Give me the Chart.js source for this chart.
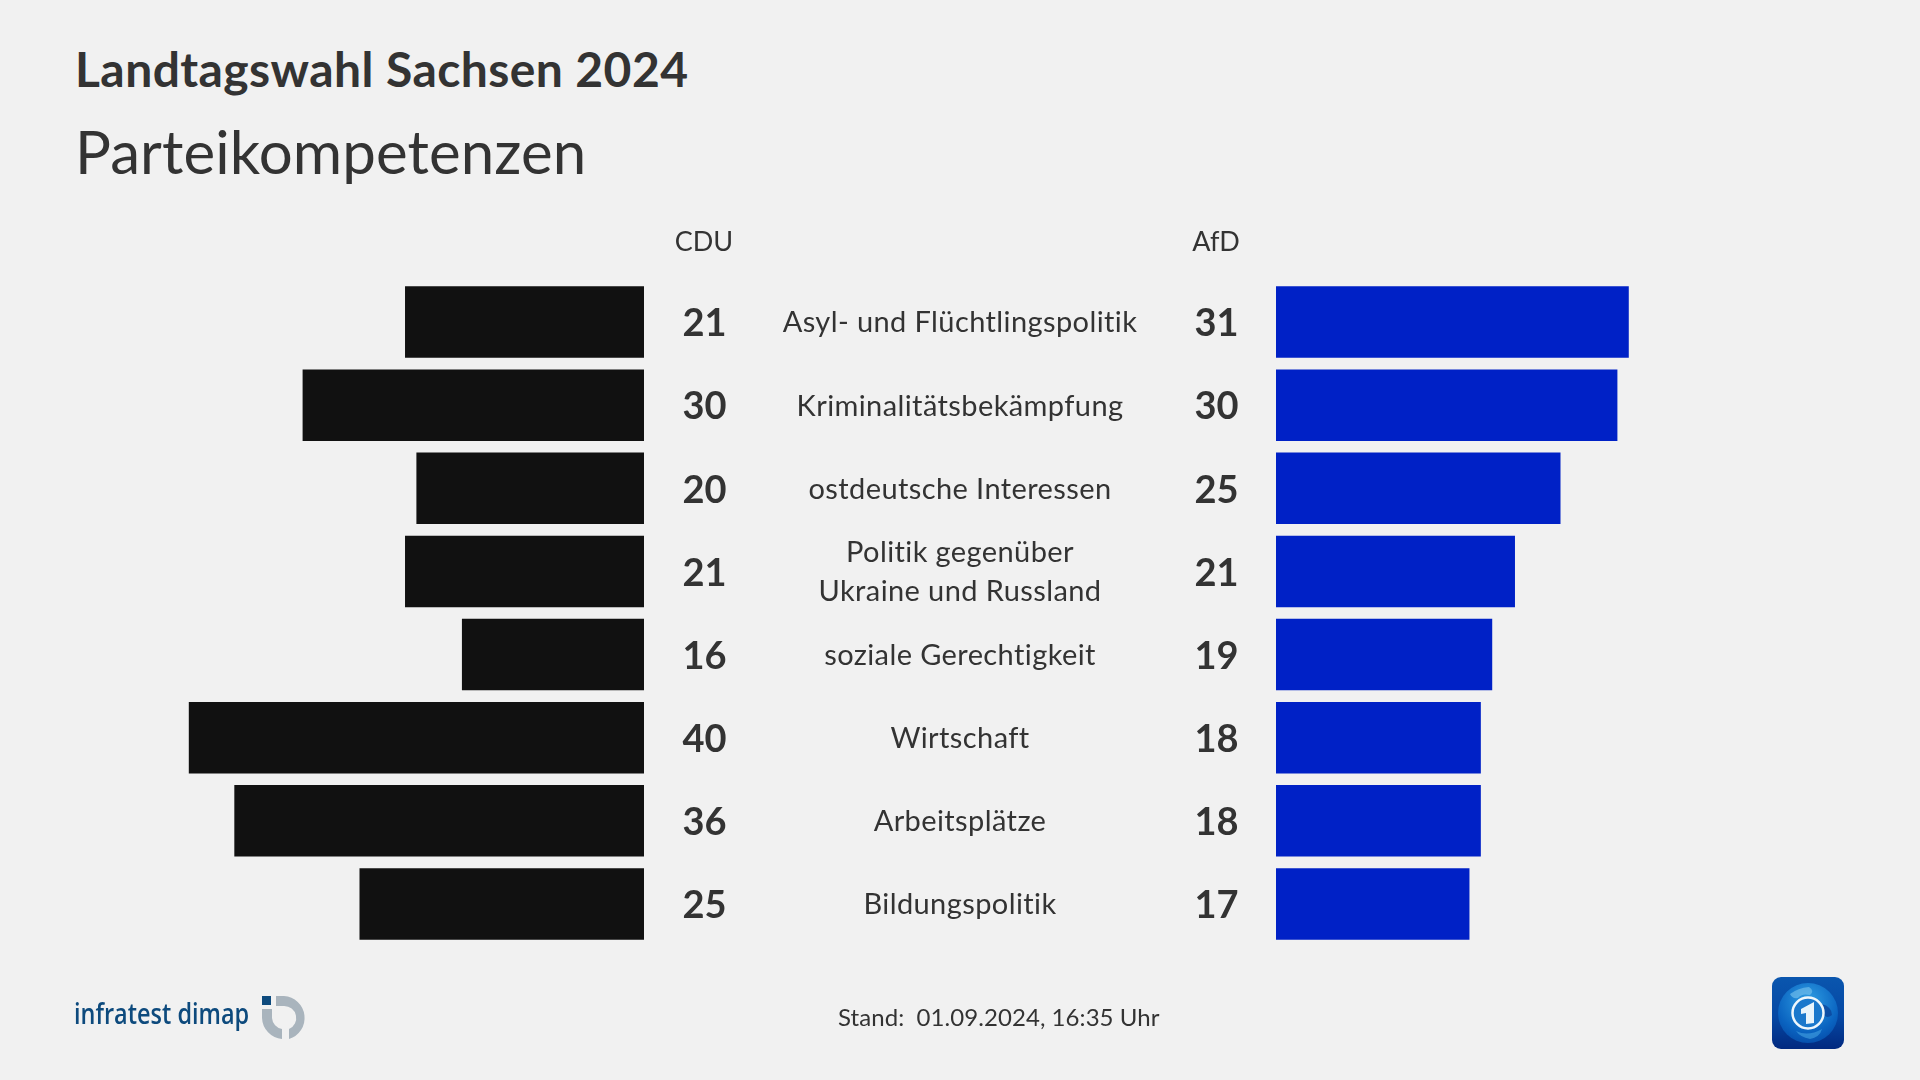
<!DOCTYPE html>
<html lang="de">
<head>
<meta charset="utf-8">
<title>Landtagswahl Sachsen 2024</title>
<script src="https://cdn.jsdelivr.net/npm/chart.js@4"></script>
<style>
    html, body { margin: 0; padding: 0; background: #f1f1f1; }
    #page { position: relative; width: 1920px; height: 1080px; overflow: hidden; color: #333; font-family: Lato, sans-serif; }
    #page canvas { position: absolute; left: 0; top: 0; }
    .title { position: absolute; left: 75px; top: 40px; font-size: 48px; font-weight: 700; letter-spacing: 0.42px; white-space: nowrap; }
    .subtitle { position: absolute; left: 75px; top: 115px; font-size: 60px; letter-spacing: 0.1px; white-space: nowrap; }
    .stand { position: absolute; left: 838px; top: 1002px; font-size: 24px; letter-spacing: 0.06px; white-space: pre; }
    .brand { position: absolute; left: 74px; top: 993px; font-size: 29px; font-weight: 600; color: #0d4a7d; white-space: nowrap; font-family: "Open Sans", sans-serif; transform: scaleX(0.81); transform-origin: left center; }
    svg { position: absolute; }
</style>
</head>
<body>
<div id="page">
    <div class="title">Landtagswahl Sachsen 2024</div>
    <div class="subtitle">Parteikompetenzen</div>
    <canvas id="leftChart" width="1920" height="1080"></canvas>
    <canvas id="rightChart" width="1920" height="1080"></canvas>
    <div class="brand">infratest dimap</div>
    <svg style="left:258px;top:992px" width="52" height="52" viewBox="0 0 52 52">
        <rect x="4" y="4" width="9" height="9" fill="#0d4a7d"/>
        <path d="M18 4 H26 A22 22 0 0 1 31 47 V37 A12 12 0 0 0 26 14 H18 Z" fill="#a9b4bd"/>
        <path d="M4 17 H14 V26 A12 12 0 0 0 24 37 V47 A22 22 0 0 1 4 26 Z" fill="#a9b4bd"/>
    </svg>
    <div class="stand">Stand:  01.09.2024, 16:35 Uhr</div>
    <svg style="left:1772px;top:977px" width="72" height="72" viewBox="0 0 72 72">
        <defs>
            <linearGradient id="tile" x1="0" y1="0" x2="0" y2="1">
                <stop offset="0" stop-color="#0a56ae"/>
                <stop offset="0.55" stop-color="#0548a4"/>
                <stop offset="1" stop-color="#02297f"/>
            </linearGradient>
            <radialGradient id="globe" cx="0.5" cy="0.3" r="0.75">
                <stop offset="0" stop-color="#2f9fe4"/>
                <stop offset="0.7" stop-color="#0a63c0"/>
                <stop offset="1" stop-color="#054ba8"/>
            </radialGradient>
        </defs>
        <rect width="72" height="72" rx="9" fill="url(#tile)"/>
        <circle cx="36" cy="36" r="30" fill="url(#globe)"/>
        <path d="M18 17 Q26 11 37 10 Q43 14 38 18 Q30 16 26 21 Q20 22 18 17 Z" fill="#7cc4ee" opacity="0.6"/>
        <path d="M50 27 Q60 30 60 38 Q55 42 52 38 Q48 33 50 27 Z" fill="#0a3f96" opacity="0.7"/>
        <path d="M24 54 Q36 60 50 52 Q48 60 38 62 Q28 60 24 54 Z" fill="#4fb0ea" opacity="0.5"/>
        <circle cx="36" cy="36" r="15.5" fill="#1a78cc" stroke="#eef7fc" stroke-width="2.5"/>
        <path d="M29 32 L42 25 V46 L34 47 V36 L29 37 Z" fill="#e8f4fb"/>
    </svg>
</div>
<script>
// Werte aus der Grafik
var categories = ["Asyl- und Flüchtlingspolitik", "Kriminalitätsbekämpfung", "ostdeutsche Interessen", ["Politik gegenüber", "Ukraine und Russland"], "soziale Gerechtigkeit", "Wirtschaft", "Arbeitsplätze", "Bildungspolitik"];
var cduValues = [21, 30, 20, 21, 16, 40, 36, 25];
var afdValues = [31, 30, 25, 21, 19, 18, 18, 17];
var cduLabel = "CDU";
var afdLabel = "AfD";

var textColor = "#333333";

// Zahlen neben den Balken, Spaltenkopf und (nur links) die Themen in der Mitte
function columnPlugin(valueX, headX, withCategories) {
    return {
        id: "columnText",
        afterDatasetsDraw: function (chart) {
            var ctx = chart.ctx;
            var dataset = chart.data.datasets[0];
            var yScale = chart.scales.y;
            ctx.save();
            ctx.fillStyle = textColor;
            ctx.textAlign = "center";
            ctx.textBaseline = "middle";

            ctx.font = "27px Lato";
            ctx.fillText(dataset.label, headX, 242);

            dataset.data.forEach(function (value, index) {
                var y = yScale.getPixelForValue(index);
                ctx.font = "bold 38px Lato";
                ctx.letterSpacing = "0px";
                ctx.fillText(value, valueX, y + 2);

                if (withCategories) {
                    ctx.font = "29px Lato";
                    ctx.letterSpacing = "0.4px";
                    var label = chart.data.labels[index];
                    if (Array.isArray(label)) {
                        ctx.fillText(label[0], 960, y - 19);
                        ctx.fillText(label[1], 960, y + 20);
                    } else {
                        ctx.fillText(label, 960, y + 1);
                    }
                }
            });
            ctx.restore();
        }
    };
}

function makeChart(id, label, values, color, reverse, padLeft, padRight, plugin) {
    return new Chart(document.getElementById(id).getContext("2d"), {
        type: "bar",
        data: {
            labels: categories,
            datasets: [{
                label: label,
                data: values,
                backgroundColor: color,
                barPercentage: 0.86,
                categoryPercentage: 1
            }]
        },
        options: {
            indexAxis: "y",
            responsive: false,
            animation: false,
            devicePixelRatio: 1,
            layout: { padding: { left: padLeft, right: padRight, top: 280.5, bottom: 134.5 } },
            plugins: { legend: { display: false }, tooltip: { enabled: false } },
            scales: {
                x: { display: false, min: 0, max: 50, reverse: reverse },
                y: { display: false }
            }
        },
        plugins: [plugin]
    });
}

makeChart("leftChart", cduLabel, cduValues, "#111111", true, 75, 1276, columnPlugin(704.5, 704, true));
makeChart("rightChart", afdLabel, afdValues, "#0021c6", false, 1276, 75, columnPlugin(1216.5, 1216, false));
</script>
</body>
</html>
